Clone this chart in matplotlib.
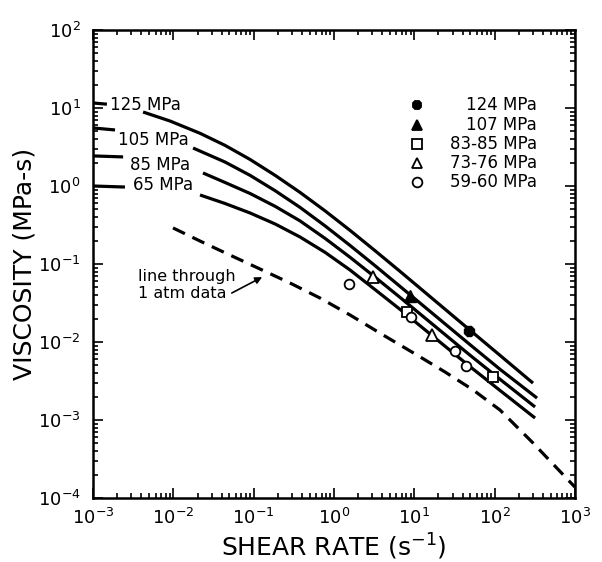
import matplotlib
matplotlib.use("Agg")
import matplotlib.pyplot as plt

plt.rcParams['font.family'] = ['DejaVu Sans']
plt.rcParams['lines.scale_dashes'] = False

# model curves at constant pressure: short stub at the axis, then the main curve
stub_rate = {
    "125": [0.001, 0.00149],
    "105": [0.001, 0.00188],
    "85": [0.001, 0.00237],
    "65": [0.001, 0.0025],
}
stub_visc = {
    "125": [11.6, 11.2],
    "105": [5.55, 5.23],
    "85": [2.43, 2.36],
    "65": [1.0, 0.97],
}

rate_125 = [0.0042, 0.0091, 0.0215, 0.044, 0.0902, 0.185, 0.378, 0.775, 1.585, 3.25, 6.65, 48.1, 117, 301]
visc_125 = [8.89, 6.81, 4.74, 3.32, 2.19, 1.37, 0.828, 0.480, 0.270, 0.148, 0.0804, 0.0145, 0.00673, 0.00297]

rate_105 = [0.0176, 0.044, 0.0902, 0.185, 0.378, 0.775, 1.585, 3.25, 6.65, 48.1, 117, 338]
visc_105 = [3.07, 2.03, 1.37, 0.871, 0.532, 0.308, 0.173, 0.0951, 0.0516, 0.00946, 0.00446, 0.00191]

rate_85 = [0.0234, 0.044, 0.0902, 0.185, 0.378, 0.775, 1.585, 3.25, 6.65, 48.1, 117, 319]
visc_85 = [1.47, 1.11, 0.802, 0.549, 0.357, 0.213, 0.122, 0.0678, 0.0373, 0.00693, 0.00332, 0.00147]

rate_65 = [0.0215, 0.044, 0.0902, 0.185, 0.378, 0.775, 1.585, 3.25, 6.65, 48.1, 117, 319]
visc_65 = [0.767, 0.597, 0.451, 0.326, 0.222, 0.141, 0.0838, 0.0469, 0.0262, 0.00494, 0.00239, 0.00106]

# 1 atm reference line
rate_atm = [0.00991, 0.0215, 0.0508, 0.120, 0.284, 0.671, 1.585, 4.09, 10.8, 24.2, 54.0, 117, 301, 1000]
visc_atm = [0.290, 0.197, 0.130, 0.0863, 0.0570, 0.0366, 0.0222, 0.0123, 0.00681, 0.00412,
            0.00243, 0.00134, 0.000507, 0.000138]

# measured points
rate_124 = [48]
visc_124 = [0.0138]
rate_107 = [8.9]
visc_107 = [0.039]
rate_83 = [8.1, 96]
visc_83 = [0.0243, 0.00356]
rate_73 = [3.07, 16.7]
visc_73 = [0.068, 0.0123]
rate_59 = [1.54, 9.1, 32, 44]
visc_59 = [0.055, 0.021, 0.0077, 0.0049]

fig = plt.figure(figsize=(6.02, 5.62), dpi=100)
ax = fig.add_axes([0.1545, 0.1139, 0.8005, 0.8327])

lw = 2.3
for key in stub_rate:
    ax.plot(stub_rate[key], stub_visc[key], color='black', lw=lw, solid_capstyle='butt')
for r, v in [(rate_125, visc_125), (rate_105, visc_105), (rate_85, visc_85), (rate_65, visc_65)]:
    ax.plot(r, v, color='black', lw=lw, solid_capstyle='butt', solid_joinstyle='round')
ax.plot(rate_atm, visc_atm, color='black', lw=lw, dashes=(9.5, 6.0))

ms = 7
ax.plot(rate_124, visc_124, '8', color='black', ms=ms + 1, zorder=5)
ax.plot(rate_107, visc_107, '^', color='black', ms=ms + 1, zorder=5)
ax.plot(rate_83, visc_83, 's', mfc='white', mec='black', mew=1.3, ms=ms, zorder=5)
ax.plot(rate_73, visc_73, '^', mfc='white', mec='black', mew=1.3, ms=ms + 1, zorder=5)
ax.plot(rate_59, visc_59, 'o', mfc='white', mec='black', mew=1.3, ms=ms, zorder=5)

ax.set_xscale('log')
ax.set_yscale('log')
ax.set_xlim(1e-3, 1e3)
ax.set_ylim(1e-4, 1e2)

for sp in ax.spines.values():
    sp.set_linewidth(1.8)
ax.tick_params(which='both', direction='in', top=True, right=True, width=1.2)
ax.tick_params(which='major', length=7, labelsize=13)
ax.tick_params(axis='x', which='major', pad=7)
ax.tick_params(axis='y', which='major', pad=9)
ax.tick_params(which='minor', length=3.5)

ax.set_xlabel('SHEAR RATE (s$^{-1}$)', fontsize=18, labelpad=3)
ax.set_ylabel('VISCOSITY (MPa-s)', fontsize=18, labelpad=1)

# curve labels
ax.text(0.035, 0.840, '125 MPa', transform=ax.transAxes, fontsize=12, va='center')
ax.text(0.052, 0.765, '105 MPa', transform=ax.transAxes, fontsize=12, va='center')
ax.text(0.077, 0.712, '85 MPa', transform=ax.transAxes, fontsize=12, va='center')
ax.text(0.083, 0.669, '65 MPa', transform=ax.transAxes, fontsize=12, va='center')

# key for the measured points
key_rows = [
    ('8', 'black', '124 MPa', 0.840),
    ('^', 'black', '107 MPa', 0.797),
    ('s', 'white', '83-85 MPa', 0.756),
    ('^', 'white', '73-76 MPa', 0.716),
    ('o', 'white', '59-60 MPa', 0.675),
]
for mk, fc, label, y in key_rows:
    ax.plot([0.672], [y], mk, mfc=fc, mec='black', mew=1.3, ms=7,
            transform=ax.transAxes, clip_on=False)
    ax.text(0.921, y, label, transform=ax.transAxes, fontsize=12,
            ha='right', va='center')

ax.text(0.093, 0.455, 'line through\n1 atm data', transform=ax.transAxes,
        fontsize=11.5, va='center', ha='left', linespacing=1.15)
ax.annotate('', xy=(0.351, 0.472), xycoords='axes fraction',
            xytext=(0.288, 0.438), textcoords='axes fraction',
            arrowprops=dict(arrowstyle='-|>', color='black', lw=1.2,
                            shrinkA=0, shrinkB=0, mutation_scale=10))

fig.savefig('out.png', dpi=100)
